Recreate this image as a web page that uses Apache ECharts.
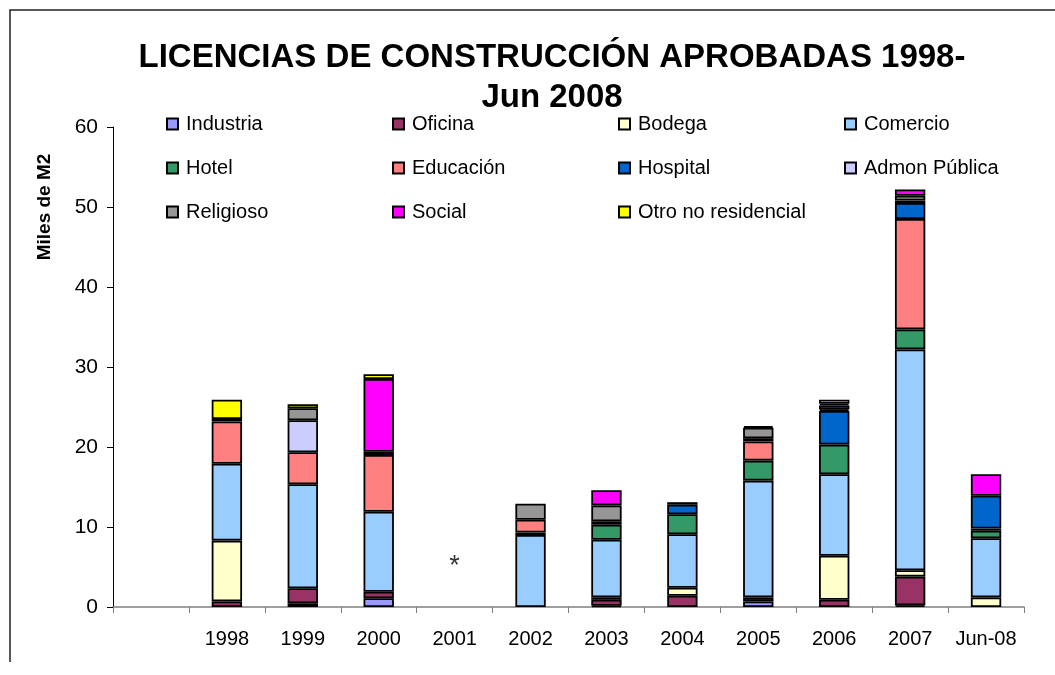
<!DOCTYPE html>
<html>
<head>
<meta charset="utf-8">
<script src="https://cdn.jsdelivr.net/npm/echarts@6/dist/echarts.min.js"></script>
<style>
  html, body { margin: 0; padding: 0; background: #fff; }
  #main { width: 1055px; height: 675px; }
</style>
</head>
<body>
<div id="main"></div>
<script>
var chart = echarts.init(document.getElementById('main'));

// categorias (la primera va vacia, como en el original)
var categories = ['', '1998', '1999', '2000', '2001', '2002', '2003', '2004', '2005', '2006', '2007', 'Jun-08'];

// miles de m2 por destino
var industria = [0, 0, 0.45, 1.1, 0, 0, 0.15, 0, 0.7, 0, 0.2, 0];
var oficina   = [0, 0.7, 1.9, 0.8, 0, 0, 0.75, 1.4, 0.5, 0.9, 3.6, 0];
var bodega    = [0, 7.6, 0, 0, 0, 0, 0.3, 1.0, 0, 5.5, 0.8, 1.2];
var comercio  = [0, 9.6, 13.0, 10.0, 0, 9.0, 7.2, 6.7, 14.6, 10.2, 27.6, 7.4];
var hotel     = [0, 0, 0, 0, 0, 0.3, 1.9, 2.5, 2.5, 3.7, 2.5, 0.95];
var educacion = [0, 5.3, 4.0, 7.1, 0, 1.6, 0.4, 0, 2.4, 0, 13.8, 0.25];
var hospital  = [0, 0, 0, 0, 0, 0, 0, 1.2, 0.4, 4.2, 2.0, 4.1];
var admon     = [0, 0, 4.0, 0.4, 0, 0, 0, 0, 0, 0.2, 0.3, 0];
var religioso = [0, 0.3, 1.5, 0, 0, 2.0, 2.0, 0.3, 1.3, 0.5, 0.6, 0];
var social    = [0, 0, 0, 9.1, 0, 0, 1.9, 0, 0, 0.2, 0.8, 2.7];
var otro      = [0, 2.4, 0.5, 0.6, 0, 0, 0, 0, 0.2, 0.5, 0, 0];

// nota del 2001
var asterisco = [['2001', 5.0]];

var yTicks = [0, 10, 20, 30, 40, 50, 60];

var seriesDef = [
    { name: 'Industria', data: industria, color: '#9999FF' },
    { name: 'Oficina', data: oficina, color: '#993366' },
    { name: 'Bodega', data: bodega, color: '#FFFFCC' },
    { name: 'Comercio', data: comercio, color: '#99CCFF' },
    { name: 'Hotel', data: hotel, color: '#339966' },
    { name: 'Educación', data: educacion, color: '#FF8080' },
    { name: 'Hospital', data: hospital, color: '#0066CC' },
    { name: 'Admon Pública', data: admon, color: '#CCCCFF' },
    { name: 'Religioso', data: religioso, color: '#969696' },
    { name: 'Social', data: social, color: '#FF00FF' },
    { name: 'Otro no residencial', data: otro, color: '#FFFF00' }
];

var series = seriesDef.map(function (s) {
    return {
        name: s.name,
        type: 'bar',
        stack: 'total',
        barWidth: '40%',
        data: s.data.map(function (v) { return v === 0 ? '-' : v; }),
        itemStyle: { color: s.color, borderColor: '#000', borderWidth: 1.8 },
        emphasis: { disabled: true }
    };
});

series.push({
    name: 'nota',
    type: 'scatter',
    data: asterisco,
    symbolSize: 0,
    silent: true,
    label: {
        show: true,
        position: 'inside',
        formatter: '*',
        color: '#000',
        fontSize: 27,
        fontFamily: 'Liberation Sans, Arial, sans-serif'
    }
});

// leyenda en 3 filas x 4 columnas
var legends = seriesDef.map(function (s, i) {
    return {
        data: [s.name],
        left: 166 + (i % 4) * 226,
        top: 114 + Math.floor(i / 4) * 44,
        padding: 0,
        icon: 'rect',
        itemWidth: 11,
        itemHeight: 11,
        selectedMode: false,
        textStyle: {
            fontSize: 20,
            lineHeight: 20,
            color: '#000',
            fontFamily: 'Liberation Sans, Arial, sans-serif',
            padding: [0, 0, 0, 3]
        }
    };
});

var option = {
    backgroundColor: '#fff',
    animation: false,
    title: {
        text: 'LICENCIAS DE CONSTRUCCIÓN APROBADAS 1998-\nJun 2008',
        left: 547,
        textAlign: 'center',
        top: 33,
        textStyle: {
            fontSize: 33,
            fontWeight: 'bold',
            lineHeight: 40,
            color: '#000',
            fontFamily: 'Liberation Sans, Arial, sans-serif'
        }
    },
    legend: legends,
    grid: { left: 113, right: 31, top: 127, bottom: 68 },
    xAxis: {
        type: 'category',
        data: categories,
        axisLine: { lineStyle: { color: '#808080', width: 1.5 } },
        axisTick: { show: true, interval: 0, alignWithLabel: false, length: 6, lineStyle: { color: '#808080' } },
        axisLabel: {
            interval: 0,
            color: '#000',
            fontSize: 20,
            margin: 22,
            fontFamily: 'Liberation Sans, Arial, sans-serif'
        },
        splitLine: { show: false }
    },
    yAxis: {
        type: 'value',
        min: yTicks[0],
        max: yTicks[yTicks.length - 1],
        interval: 10,
        axisLine: { show: true, lineStyle: { color: '#000', width: 1 } },
        axisTick: { show: true, length: 6, lineStyle: { color: '#000' } },
        axisLabel: {
            color: '#000',
            fontSize: 21,
            margin: 15,
            fontFamily: 'Liberation Sans, Arial, sans-serif'
        },
        splitLine: { show: false }
    },
    graphic: [
        {
            type: 'text',
            x: 45,
            y: 207,
            rotation: Math.PI / 2,
            style: {
                text: 'Miles de M2',
                fontSize: 19,
                fontWeight: 'bold',
                fill: '#000',
                fontFamily: 'Liberation Sans, Arial, sans-serif',
                align: 'center',
                verticalAlign: 'middle'
            }
        },
        {
            type: 'polyline',
            shape: { points: [[10, 662], [10, 10], [1055, 10]] },
            style: { stroke: '#222', lineWidth: 1.5, fill: null }
        }
    ],
    series: series
};

chart.setOption(option);
</script>
</body>
</html>
